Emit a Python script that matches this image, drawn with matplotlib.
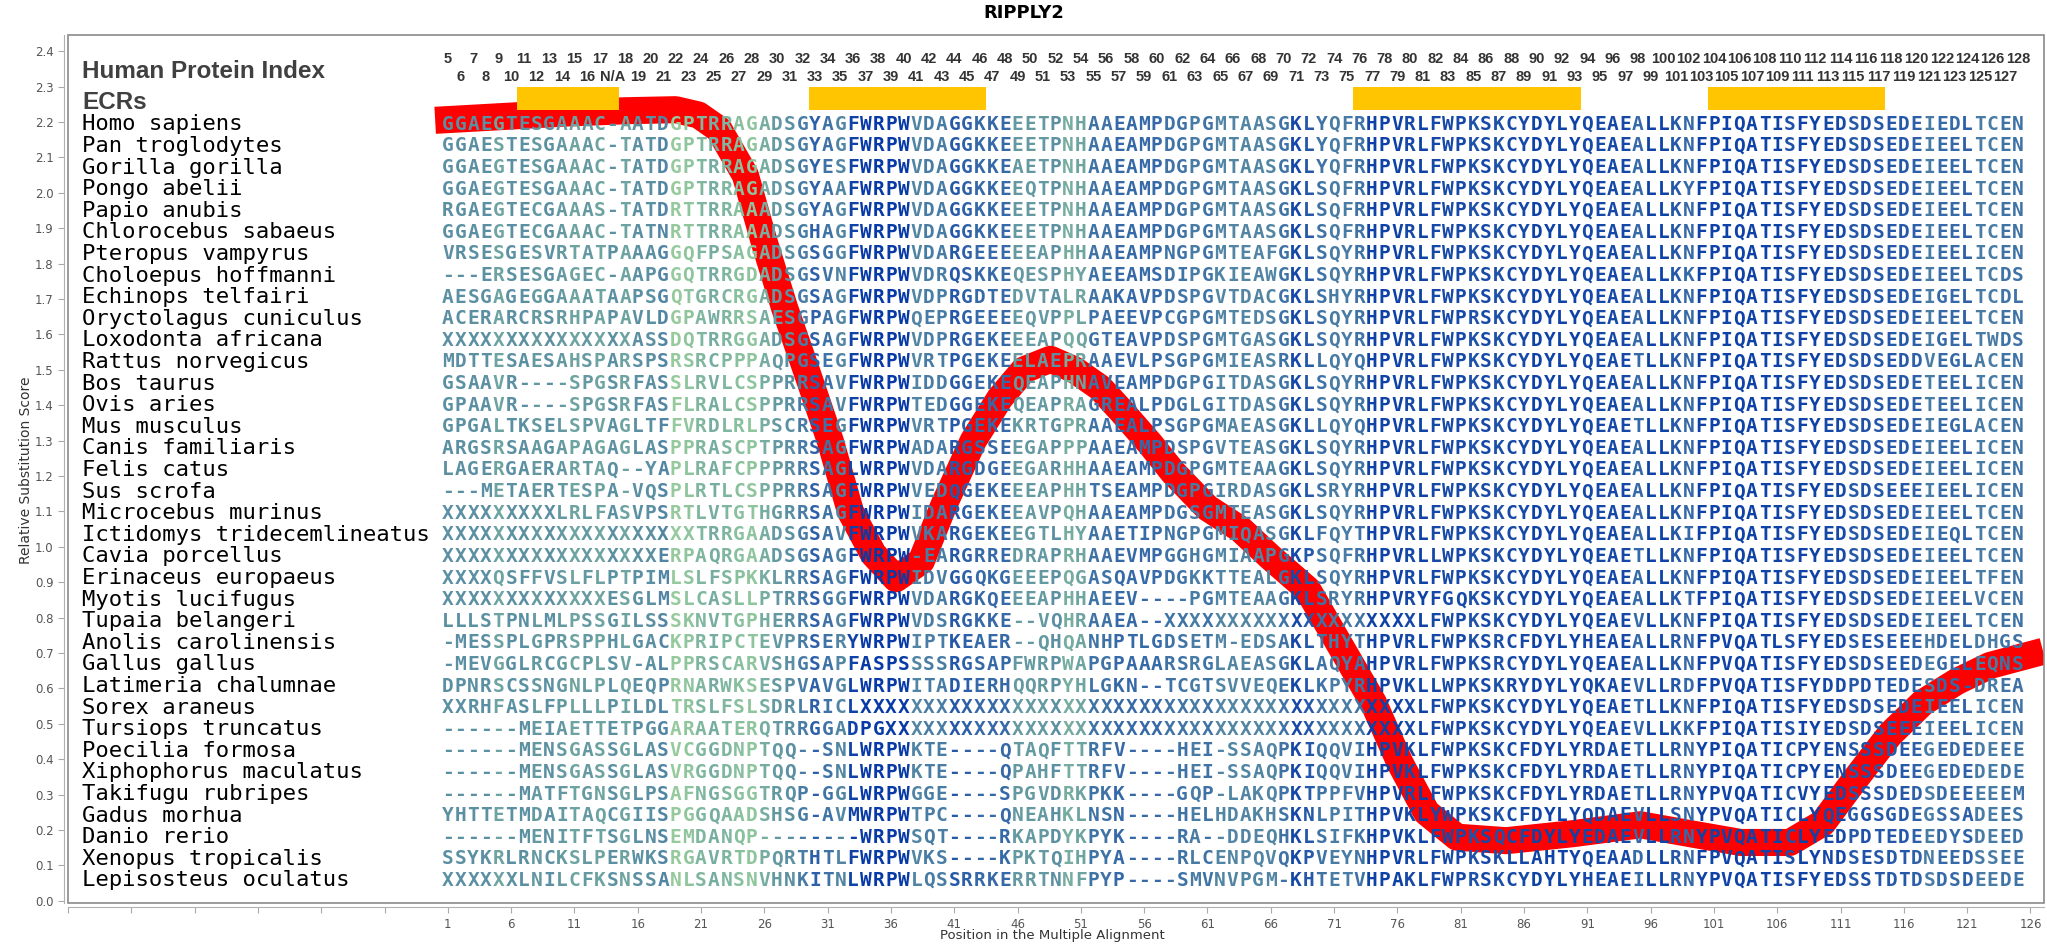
import matplotlib
matplotlib.use('Agg')
import matplotlib.pyplot as plt
from matplotlib import font_manager
from matplotlib.colors import LinearSegmentedColormap
from matplotlib.patches import Rectangle

# ---- data ----
species = [
    'Homo sapiens', 'Pan troglodytes', 'Gorilla gorilla', 'Pongo abelii', 'Papio anubis',
    'Chlorocebus sabaeus', 'Pteropus vampyrus', 'Choloepus hoffmanni', 'Echinops telfairi',
    'Oryctolagus cuniculus', 'Loxodonta africana', 'Rattus norvegicus', 'Bos taurus',
    'Ovis aries', 'Mus musculus', 'Canis familiaris', 'Felis catus', 'Sus scrofa',
    'Microcebus murinus', 'Ictidomys tridecemlineatus', 'Cavia porcellus',
    'Erinaceus europaeus', 'Myotis lucifugus', 'Tupaia belangeri', 'Anolis carolinensis',
    'Gallus gallus', 'Latimeria chalumnae', 'Sorex araneus', 'Tursiops truncatus',
    'Poecilia formosa', 'Xiphophorus maculatus', 'Takifugu rubripes', 'Gadus morhua',
    'Danio rerio', 'Xenopus tropicalis', 'Lepisosteus oculatus',
]

sequences = [
    'GGAEGTESGAAAC-AATDGPTRRAGADSGYAG' 'FWRPWVDAGGKKEEETPNHAAEAMPDGPGMTA' 'ASGKLYQFRHPVRLFWPKSKCYDYLYQEAEA' 'LLKNFPIQATISFYEDSDSEDEIEDLTCEN',
    'GGAESTESGAAAC-TATDGPTRRAGADSGYAG' 'FWRPWVDAGGKKEEETPNHAAEAMPDGPGMTA' 'ASGKLYQFRHPVRLFWPKSKCYDYLYQEAEA' 'LLKNFPIQATISFYEDSDSEDEIEELTCEN',
    'GGAEGTESGAAAC-TATDGPTRRAGADSGYES' 'FWRPWVDAGGKKEAETPNHAAEAMPDGPGMTA' 'ASGKLYQFRHPVRLFWPKSKCYDYLYQEAEA' 'LLKNFPIQATISFYEDSDSEDEIEELTCEN',
    'GGAEGTESGAAAC-TATDGPTRRAGADSGYAA' 'FWRPWVDAGGKKEEQTPNHAAEAMPDGPGMTA' 'ASGKLSQFRHPVRLFWPKSKCYDYLYQEAEA' 'LLKYFPIQATISFYEDSDSEDEIEELTCEN',
    'RGAEGTECGAAAS-TATDRTTRRAAADSGYAG' 'FWRPWVDAGGKKEEETPNHAAEAMPDGPGMTA' 'ASGKLSQFRHPVRLFWPKSKCYDYLYQEAEA' 'LLKNFPIQATISFYEDSDSEDEIEELTCEN',
    'GGAEGTECGAAAC-TATNRTTRRAAADSGHAG' 'FWRPWVDAGGKKEEETPNHAAEAMPDGPGMTA' 'ASGKLSQFRHPVRLFWPKSKCYDYLYQEAEA' 'LLKNFPIQATISFYEDSDSEDEIEELTCEN',
    'VRSESGESVRTATPAAAGGQFPSAGADSGSGG' 'FWRPWVDARGEEEEEAPHHAAEAMPNGPGMTE' 'AFGKLSQYRHPVRLFWPKSKCYDYLYQEAEA' 'LLKNFPIQATISFYEDSDSEDEIEELICEN',
    '---ERSESGAGEC-AAPGGQTRRGDADSGSVN' 'FWRPWVDRQSKKEQESPHYAEEAMSDIPGKIE' 'AWGKLSQYRHPVRLFWPKSKCYDYLYQEAEA' 'LLKKFPIQATISFYEDSDSEDEIEELTCDS',
    'AESGAGEGGAAATAAPSGQTGRCRGADSGSAG' 'FWRPWVDPRGDTEDVTALRAAKAVPDSPGVTD' 'ACGKLSHYRHPVRLFWPKSKCYDYLYQEAEA' 'LLKNFPIQATISFYEDSDSEDEIGELTCDL',
    'ACERARCRSRHPAPAVLDGPAWRRSAESGPAG' 'FWRPWQEPRGEEEEQVPPLPAEEVPCGPGMTE' 'DSGKLSQYRHPVRLFWPRSKCYDYLYQEAEA' 'LLKNFPIQATISFYEDSDSEDEIEELTCEN',
    'XXXXXXXXXXXXXXXASSDQTRRGGADSGSAG' 'FWRPWVDPRGEKEEEAPQQGTEAVPDSPGMTG' 'ASGKLSQYRHPVRLFWPKSKCYDYLYQEAEA' 'LLKNFPIQATISFYEDSDSEDEIGELTWDS',
    'MDTTESAESAHSPARSPSRSRCPPPAQPGSEG' 'FWRPWVRTPGEKEELAEPRAAEVLPSGPGMIE' 'ASRKLLQYQHPVRLFWPKSKCYDYLYQEAET' 'LLKNFPIQATISFYEDSDSEDDVEGLACEN',
    'GSAAVR----SPGSRFASSLRVLCSPPRRSAV' 'FWRPWIDDGGEKEQEAPHNAVEAMPDGPGITD' 'ASGKLSQYRHPVRLFWPKSKCYDYLYQEAEA' 'LLKNFPIQATISFYEDSDSEDETEELICEN',
    'GPAAVR----SPGSRFASFLRALCSPPRRSAV' 'FWRPWTEDGGEKEQEAPRAGREALPDGLGITD' 'ASGKLSQYRHPVRLFWPKSKCYDYLYQEAEA' 'LLKNFPIQATISFYEDSDSEDETEELICEN',
    'GPGALTKSELSPVAGLTFFVRDLRLPSCRSEG' 'FWRPWVRTPGEKEKRTGPRAAEALPSGPGMAE' 'ASGKLLQYQHPVRLFWPKSKCYDYLYQEAET' 'LLKNFPIQATISFYEDSDSEDEIEGLACEN',
    'ARGSRSAAGAPAGAGLASPPRASCPTPRRSAG' 'FWRPWADARGSSEEGAPPPAAEAMPDSPGVTE' 'ASGKLSQYRHPVRLFWPKSKCYDYLYQEAEA' 'LLKNFPIQATISFYEDSDSEDEIEELICEN',
    'LAGERGAERARTAQ--YAPLRAFCPPPRRSAG' 'LWRPWVDARGDGEEGARHHAAEAMPDGPGMTE' 'AAGKLSQYRHPVRLFWPKSKCYDYLYQEAEA' 'LLKNFPIQATISFYEDSDSEDEIEELICEN',
    '---METAERTESPA-VQSPLRTLCSPPRRSAG' 'FWRPWVEDQGEKEEEAPHHTSEAMPDGPGIRD' 'ASGKLSRYRHPVRLFWPKSKCYDYLYQEAEA' 'LLKNFPIQATISFYEDSDSEEEIEELICEN',
    'XXXXXXXXXLRLFASVPSRTLVTGTHGRRSAG' 'FWRPWIDARGEKEEAVPQHAAEAMPDGSGMTE' 'ASGKLSQYRHPVRLFWPKSKCYDYLYQEAEA' 'LLKNFPIQATISFYEDSDSEDEIEELTCEN',
    'XXXXXXXXXXXXXXXXXXXXTRRGAADSGSAV' 'FWRPWVKARGEKEEGTLHYAAETIPNGPGMIQ' 'ASGKLFQYTHPVRLFWPKSKCYDYLYQEAEA' 'LLKIFPIQATISFYEDSDSEDEIEQLTCEN',
    'XXXXXXXXXXXXXXXXXERPAQRGAADSGSAG' 'FWRPW-EARGRREDRAPRHAAEVMPGGHGMIA' 'APGKPSQFRHPVRLLWPKSKCYDYLYQEAET' 'LLKNFPIQATISFYEDSDSEDEIEELTCEN',
    'XXXXQSFFVSLFLPTPIMLSLFSPKKLRRSAG' 'FWRPWIDVGGQKGEEEPQGASQAVPDGKKTTE' 'ALGKLSQYRHPVRLFWPKSKCYDYLYQEAEA' 'LLKNFPIQATISFYEDSDSEDEIEELTFEN',
    'XXXXXXXXXXXXXESGLMSLCASLLPTRRSGG' 'FWRPWVDARGKQEEEAPHHAEEV----PGMTE' 'AAGKLSRYRHPVRYFGQKSKCYDYLYQEAEA' 'LLKTFPIQATISFYEDSDSEDEIEELVCEN',
    'LLLSTPNLMLPSSGILSSSKNVTGPHERRSAG' 'FWRPWVDSRGKKE--VQHRAAEA--XXXXXXX' 'XXXXXXXXXXXXXLFWPKSKCYDYLYQEAEV' 'LLKNFPIQATISFYEDSDSEDEIEELTCEN',
    '-MESSPLGPRSPPHLGACKPRIPCTEVPRSER' 'YWRPWIPTKEAER--QHQANHPTLGDSETM-E' 'DSAKLTHYTHPVRLFWPKSRCFDYLYHEAEA' 'LLRNFPVQATLSFYEDSESEEEHDELDHGS',
    '-MEVGGLRCGCPLSV-ALPPRSCARVSHGSAP' 'FASPSSSSRGSAPFWRPWAPGPAAARSRGLAE' 'ASGKLAQYAHPVRLFWPKSRCYDYLYQEAEA' 'LLKNFPVQATISFYEDSDSEEDEGELEQNS',
    'DPNRSCSSNGNLPLQEQPRNARWKSESPVAVG' 'LWRPWITADIERHQQRPYHLGKN--TCGTSVV' 'EQEKLKPYRHPVKLLWPKSKRYDYLYQKAEV' 'LLRDFPVQATISFYDDPDTEDESDS-DREA',
    'XXRHFASLFPLLLPILDLTRSLFSLSDRLRIC' 'LXXXXXXXXXXXXXXXXXXXXXXXXXXXXXXX' 'XXXXXXXXXXXXXLFWPKSKCYDYLYQEAET' 'LLKNFPIQATISFYEDSDSEDEIEELICEN',
    '------MEIAETTETPGGARAATERQTRRGGA' 'DPGXXXXXXXXXXXXXXXXXXXXXXXXXXXXX' 'XXXXXXXXXXXXXLFWPKSKCYDYLYQEAEV' 'LLKKFPIQATISIYEDSDSEEEIEELICEN',
    '------MENSGASSGLASVCGGDNPTQQ--SN' 'LWRPWKTE----QTAQFTTRFV----HEI-SS' 'AQPKIQQVIHPVKLFWPKSKCFDYLYRDAET' 'LLRNYPIQATICPYENSSSDEEGEDEDEEE',
    '------MENSGASSGLASVRGGDNPTQQ--SN' 'LWRPWKTE----QPAHFTTRFV----HEI-SS' 'AQPKIQQVIHPVKLFWPKSKCFDYLYRDAET' 'LLRNYPIQATICPYENSSSDEEGEDEDEDE',
    '------MATFTGNSGLPSAFNGSGGTRQP-GG' 'LWRPWGGE----SPGVDRKPKK----GQP-LA' 'KQPKTPPFVHPVRLFWPKSKCFDYLYRDAET' 'LLRNYPVQATICVYEDSSSDEDSDEEEEEM',
    'YHTTETMDAITAQCGIISPGGQAADSHSG-AV' 'MWRPWTPC----QNEAHKLNSN----HELHDA' 'KHSKNLPITHPVKLYWPKSKCFDYLYQDAEV' 'LLSNYPVQATICLYQEGGSGDEGSSADEES',
    '------MENITFTSGLNSEMDANQP-------' '-WRPWSQT----RKAPDYKPYK----RA--DD' 'EQHKLSIFKHPVKLFWPKSQCFDYLYEDAEV' 'LLRNYPVQATICLYEDPDTEDEEDYSDEED',
    'SSYKRLRNCKSLPERWKSRGAVRTDPQRTHTL' 'FWRPWVKS----KPKTQIHPYA----RLCENP' 'QVQKPVEYNHPVRLFWPKSKLLAHTYQEAAD' 'LLRNFPVQATISLYNDSESDTDNEEDSSEE',
    'XXXXXXLNILCFKSNSSANLSANSNVHNKITN' 'LWRPWLQSSRRKERRTNNFPYP----SMVNVP' 'GM-KHTETVHPAKLFWPRSKCYDYLYHEAEI' 'LLRNYPVQATISFYEDSSTDTDSDSDEEDE',
]

# conservation level of each alignment column (0 = light green, 1 = dark blue)
column_level = [
    0.45, 0.45, 0.45, 0.45, 0.35, 0.45, 0.45, 0.40, 0.45, 0.40,
    0.35, 0.40, 0.35, 0.45, 0.35, 0.45, 0.45, 0.50, 0.10, 0.15,
    0.25, 0.30, 0.25, 0.20, 0.15, 0.30, 0.40, 0.45, 0.55, 0.70,
    0.60, 0.50, 0.90, 0.95, 0.95, 0.95, 0.95, 0.50, 0.55, 0.55,
    0.75, 0.70, 0.65, 0.65, 0.65, 0.40, 0.40, 0.40, 0.45, 0.30,
    0.35, 0.60, 0.60, 0.65, 0.65, 0.65, 0.65, 0.60, 0.60, 0.55,
    0.60, 0.50, 0.50, 0.50, 0.50, 0.50, 0.60, 0.85, 0.75, 0.60,
    0.55, 0.55, 0.60, 0.90, 0.90, 0.90, 0.85, 0.90, 0.85, 0.85,
    0.85, 0.80, 0.85, 0.80, 0.85, 0.85, 0.90, 0.90, 0.90, 0.90,
    0.85, 0.85, 0.85, 0.85, 0.65, 0.90, 0.90, 0.75, 0.65, 0.90,
    0.90, 0.90, 0.90, 0.90, 0.90, 0.90, 0.80, 0.90, 0.90, 0.85,
    0.85, 0.75, 0.80, 0.75, 0.75, 0.75, 0.70, 0.55, 0.65, 0.65,
    0.70, 0.55, 0.55, 0.60, 0.60,
]

# human protein index for each column (column 14 is a gap in human)
human_index = [str(v) for v in range(5, 18)] + ['N/A'] + [str(v) for v in range(18, 129)]

# evolutionary conserved regions (first column, last column)
ecr_start = [7, 30, 73, 101]
ecr_end = [14, 43, 90, 114]

# relative substitution score curve
curve_pos = [0, 5, 10, 15, 19, 20.8, 22.4, 24.5, 26.0, 27.6, 29.4, 31.2, 32.8, 34.6, 36.4,
             38.4, 40.2, 42.5, 44.6, 46.5, 48.6, 50.5, 52.5, 54.3, 56.5, 58.3, 61, 63.6, 66,
             68.9, 71.5, 74.1, 76.2, 78.3, 80.7, 84.6, 89.9, 95.2, 99.1, 103.1, 107,
             109.6, 112.3, 114.9, 117.5, 120.2, 122.8, 127]
curve_score = [2.205, 2.215, 2.225, 2.232, 2.235, 2.22, 2.18, 2.05, 1.86, 1.675, 1.49,
               1.30, 1.10, 0.98, 0.91, 0.96, 1.12, 1.30, 1.42, 1.50, 1.53, 1.50, 1.45,
               1.38, 1.29, 1.21, 1.11, 1.05, 0.97, 0.88, 0.72, 0.56, 0.39, 0.25, 0.18,
               0.17, 0.19, 0.215, 0.19, 0.165, 0.165, 0.22, 0.35, 0.47, 0.56, 0.62,
               0.665, 0.705]


def has_font(name):
    try:
        font_manager.findfont(name, fallback_to_default=False)
        return True
    except ValueError:
        return False


if has_font('Liberation Sans Narrow'):
    num_font, num_size = 'Liberation Sans Narrow', 12.5
else:
    num_font, num_size = 'Liberation Sans', 10.5

cmap = LinearSegmentedColormap.from_list(
    'cons', [(0.0, '#a3d39c'), (0.2, '#88c09e'), (0.45, '#5b8fa2'),
             (0.7, '#2d60a8'), (1.0, '#0033a6')])

W, H = 2047, 950
fig = plt.figure(figsize=(W / 100, H / 100), dpi=100)
ax = fig.add_axes([68 / W, (H - 903) / H, (2044 - 68) / W, (903 - 35) / H])
ax.set_xlim(-29, 127.07)
ax.set_ylim(-0.006, 2.446)

# red score curve under the letters
ax.plot(curve_pos, curve_score, color='red', lw=19.5, solid_capstyle='butt',
        solid_joinstyle='round', zorder=1)

# ECR bars
for s, e in zip(ecr_start, ecr_end):
    ax.add_patch(Rectangle((s - 0.5, 2.235), e - s + 1, 0.063,
                           facecolor='#ffc500', edgecolor='none', zorder=2))

# human index numbers, staggered in two rows
for j, lab in enumerate(human_index):
    col = j + 1
    yy = 2.378 if col % 2 == 1 else 2.328
    ax.text(col, yy, lab, ha='center', va='center', family=num_font,
            fontweight='bold', fontsize=num_size, color='#333333', zorder=3)

ax.text(-27.9, 2.342, 'Human Protein Index', ha='left', va='center',
        family='Liberation Sans', fontweight='bold', fontsize=17.5, color='#404040')
ax.text(-27.9, 2.254, 'ECRs', ha='left', va='center',
        family='Liberation Sans', fontweight='bold', fontsize=17.5, color='#404040')

# species names and aligned residues
row_y0, row_step = 2.1935, 0.06102
for i, (name, seq) in enumerate(zip(species, sequences)):
    y = row_y0 - i * row_step
    ax.text(-27.9, y, name, ha='left', va='center', family='DejaVu Sans Mono',
            fontsize=16, color='black', zorder=3)
    for j, ch in enumerate(seq):
        ax.text(j + 1, y, ch, ha='center', va='center', family='DejaVu Sans Mono',
                fontweight='bold', fontsize=14, color=cmap(column_level[j]), zorder=3)

# axes styling
xt = list(range(-29, 127, 5))
ax.set_xticks(xt)
ax.set_xticklabels([str(v) if v > 0 else '' for v in xt])
yt = [k / 10 for k in range(25)]
ax.set_yticks(yt)
ax.set_yticklabels(['%.1f' % v for v in yt])
ax.tick_params(axis='both', labelsize=8.5, labelcolor='#555555', color='#aaaaaa',
               length=4, width=0.8)
for side in ['top', 'right']:
    ax.spines[side].set_visible(False)
for side in ['left', 'bottom']:
    ax.spines[side].set_position(('outward', 3))
    ax.spines[side].set_color('#b0b0b0')
ax.add_patch(Rectangle((0, 0), 1, 1, transform=ax.transAxes, fill=False,
                       edgecolor='#8a8a8a', lw=1.2, zorder=4, clip_on=False))

fig.text(1052 / W, 1 - 935 / H, 'Position in the Multiple Alignment', ha='center',
         va='center', fontsize=9.5, color='#333333')
fig.text(26 / W, 1 - 470 / H, 'Relative Substitution Score', ha='center', va='center',
         rotation=90, fontsize=10, color='#333333')
fig.text(1024 / W, 1 - 13 / H, 'RIPPLY2', ha='center', va='center', fontsize=13,
         fontweight='bold', color='black')

fig.savefig('out.png', dpi=100)
